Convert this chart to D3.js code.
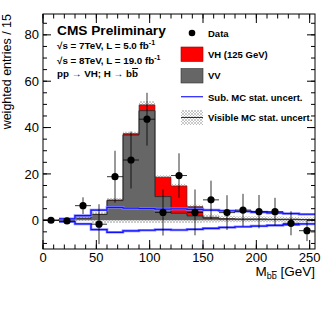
<!DOCTYPE html>
<html>
<head>
<meta charset="utf-8">
<script src="https://cdn.jsdelivr.net/npm/d3@7"></script>
<style>
  body { margin: 0; background: #fff; }
  text { font-family: "Liberation Sans", Arial, sans-serif; }
</style>
</head>
<body>
<div id="chart"></div>
<script>
// bins of 15 GeV, lower edges
var binLow = [0, 15, 30, 45, 60, 75, 90, 105, 120, 135, 150, 165, 180, 195, 210, 225, 240];
var binWidth = 15;
// stacked backgrounds
var vv = [0, 0.4, 0.9, 2.5, 8.5, 36.8, 47.3, 10.2, 3.0, 1.9, 0.9, 0.6, 0.5, 0.5, 0.4, 0.4, 0.3];
var vh = [0, 0, 0, 0.1, 0.3, 0.6, 2.5, 8.4, 11.8, 4.0, 0.4, 0.1, 0, 0, 0, 0, 0];
// visible MC stat. uncertainty (half width) and the band below zero
var mcUnc = [0, 0.5, 1.0, 1.0, 0.8, 0.8, 1.6, 0.8, 0.9, 0.8, 1.2, 1.2, 1.2, 1.2, 1.2, 1.0, 1.0];
var mcNeg = [0, 0, -0.4, -1.2, -1.2, -1.2, -1.2, -1.2, -1.2, -1.2, -1.0, -0.8, -0.8, -0.8, -0.8, -0.8, -0.8];
// subtracted MC stat. uncertainty (blue lines), first bin has none
var subUp = [null, 0.6, 2.0, 4.4, 5.6, 5.2, 5.0, 4.8, 4.9, 4.7, 4.4, 4.1, 3.8, 3.5, 3.2, 2.9, 2.6];
var subDown = [null, -0.6, -1.6, -4.0, -5.2, -4.6, -4.3, -4.0, -4.2, -3.9, -3.5, -3.1, -2.8, -2.5, -2.2, -1.9, -1.6];
// data
var dataY = [0, -0.3, 6.3, -1.7, 18.8, 26.0, 43.6, 3.4, 19.3, 3.4, 8.8, 3.3, 4.4, 3.7, 3.7, -1.3, -4.5];
var dataErr = [0.3, 0.5, 3.6, 8.6, 11.2, 12.3, 11.4, 10.0, 9.6, 9.9, 8.3, 7.5, 7.0, 7.2, 6.0, 5.2, 4.5];

var W = 332, H = 319;
var frame = {left: 43, right: 315, top: 14, bottom: 249};

var svg = d3.select("#chart").append("svg")
    .attr("width", W).attr("height", H);

var x = d3.scaleLinear().domain([0, 255]).range([frame.left, frame.right]);
var y = d3.scaleLinear().domain([-12.4, 89]).range([frame.bottom, frame.top]);

// hatch pattern for MC stat uncert.
var defs = svg.append("defs");
var pat = defs.append("pattern").attr("id", "hatch")
    .attr("patternUnits", "userSpaceOnUse").attr("width", 3).attr("height", 3);
pat.append("rect").attr("width", 3).attr("height", 3).attr("fill", "#fff");
pat.append("path").attr("d", "M0,0 L3,3 M3,0 L0,3")
    .attr("stroke", "#aaa").attr("stroke-width", 0.6);

var bins = binLow.map(function(b, i) {
    return {lo: b, hi: b + binWidth, vv: vv[i], vh: vh[i], unc: mcUnc[i], neg: mcNeg[i],
            up: subUp[i], down: subDown[i], d: dataY[i], e: dataErr[i]};
});

var plot = svg.append("g");

// light band below zero
plot.selectAll(".neg").data(bins.filter(function(d){ return d.neg < 0; }))
    .enter().append("rect")
    .attr("x", function(d){ return x(d.lo); })
    .attr("width", function(d){ return x(d.hi) - x(d.lo); })
    .attr("y", y(0))
    .attr("height", function(d){ return y(d.neg) - y(0); })
    .attr("fill", "url(#hatch)");

// MC stat. uncert. band around total
plot.selectAll(".unc").data(bins.filter(function(d){ return d.unc > 0; }))
    .enter().append("rect")
    .attr("x", function(d){ return x(d.lo); })
    .attr("width", function(d){ return x(d.hi) - x(d.lo); })
    .attr("y", function(d){ return y(d.vv + d.vh + d.unc); })
    .attr("height", function(d){ return y(d.vv + d.vh - d.unc) - y(d.vv + d.vh + d.unc); })
    .attr("fill", "url(#hatch)");

// VV
plot.selectAll(".vv").data(bins.filter(function(d){ return d.vv > 0; }))
    .enter().append("rect")
    .attr("x", function(d){ return x(d.lo); })
    .attr("width", function(d){ return x(d.hi) - x(d.lo); })
    .attr("y", function(d){ return y(d.vv); })
    .attr("height", function(d){ return y(0) - y(d.vv); })
    .attr("fill", "#666666");

// VH on top
plot.selectAll(".vh").data(bins.filter(function(d){ return d.vh > 0; }))
    .enter().append("rect")
    .attr("x", function(d){ return x(d.lo); })
    .attr("width", function(d){ return x(d.hi) - x(d.lo); })
    .attr("y", function(d){ return y(d.vv + d.vh); })
    .attr("height", function(d){ return y(d.vv) - y(d.vv + d.vh); })
    .attr("fill", "#ff0000");

// step outline helper
function stepPath(vals) {
    var pts = [];
    bins.forEach(function(d, i) {
        if (vals[i] == null) return;
        pts.push([x(d.lo), y(vals[i])]);
        pts.push([x(d.hi), y(vals[i])]);
    });
    return d3.line()(pts);
}

// VV outline and total outline
plot.append("path").attr("d", stepPath(vv))
    .attr("fill", "none").attr("stroke", "#222").attr("stroke-width", 0.9);
plot.append("path").attr("d", stepPath(bins.map(function(d){ return d.vv + d.vh; })))
    .attr("fill", "none").attr("stroke", "#333").attr("stroke-width", 0.6);

// blue sub MC stat uncert lines
[subUp, subDown].forEach(function(arr) {
    plot.append("path").attr("d", stepPath(arr))
        .attr("fill", "none").attr("stroke", "#8888ff").attr("stroke-width", 2.6);
    plot.append("path").attr("d", stepPath(arr))
        .attr("fill", "none").attr("stroke", "#1010ff").attr("stroke-width", 1.2);
});

// data points
var pts = plot.selectAll(".pt").data(bins).enter().append("g");
pts.append("line")
    .attr("x1", function(d){ return x(d.lo); }).attr("x2", function(d){ return x(d.hi); })
    .attr("y1", function(d){ return y(d.d); }).attr("y2", function(d){ return y(d.d); })
    .attr("stroke", "#000").attr("stroke-width", 0.8);
pts.append("line")
    .attr("x1", function(d){ return x(d.lo + binWidth / 2); }).attr("x2", function(d){ return x(d.lo + binWidth / 2); })
    .attr("y1", function(d){ return y(d.d + d.e); }).attr("y2", function(d){ return y(d.d - d.e); })
    .attr("stroke", "#000").attr("stroke-width", 0.8);
pts.append("circle")
    .attr("cx", function(d){ return x(d.lo + binWidth / 2); })
    .attr("cy", function(d){ return y(d.d); })
    .attr("r", 3.6).attr("fill", "#000");

// frame
svg.append("rect")
    .attr("x", frame.left).attr("y", frame.top)
    .attr("width", frame.right - frame.left).attr("height", frame.bottom - frame.top)
    .attr("fill", "none").attr("stroke", "#000").attr("stroke-width", 1);

// ticks, ROOT style, inside on all sides
var yMajor = d3.range(0, 81, 20), yMinor = d3.range(-10, 89, 5);
var xMajor = d3.range(0, 251, 50), xMinor = d3.range(0, 255, 10);
var tk = svg.append("g").attr("stroke", "#000").attr("stroke-width", 1);
function yTicks(vals, len) {
    vals.forEach(function(v) {
        tk.append("line").attr("x1", frame.left).attr("x2", frame.left + len)
            .attr("y1", y(v)).attr("y2", y(v));
        tk.append("line").attr("x1", frame.right).attr("x2", frame.right - len)
            .attr("y1", y(v)).attr("y2", y(v));
    });
}
function xTicks(vals, len) {
    vals.forEach(function(v) {
        tk.append("line").attr("y1", frame.bottom).attr("y2", frame.bottom - len)
            .attr("x1", x(v)).attr("x2", x(v));
        tk.append("line").attr("y1", frame.top).attr("y2", frame.top + len)
            .attr("x1", x(v)).attr("x2", x(v));
    });
}
yTicks(yMinor, 4); yTicks(yMajor, 8);
xTicks(xMinor, 4.5); xTicks(xMajor, 9);

svg.selectAll(".ylab").data(yMajor).enter().append("text")
    .attr("x", 39).attr("y", function(d){ return y(d) + 4.6; })
    .attr("text-anchor", "end").attr("font-size", 13).text(function(d){ return d; });
svg.selectAll(".xlab").data(xMajor).enter().append("text")
    .attr("x", function(d){ return x(d); }).attr("y", 262)
    .attr("text-anchor", "middle").attr("font-size", 13).text(function(d){ return d; });

// axis titles
svg.append("text")
    .attr("transform", "translate(11,14) rotate(-90)")
    .attr("text-anchor", "end").attr("font-size", 12.5)
    .text("weighted entries / 15");

var xt = svg.append("text").attr("x", 315).attr("y", 276)
    .attr("text-anchor", "end").attr("font-size", 13.5);
xt.append("tspan").text("M");
xt.append("tspan").attr("font-size", 9).attr("dy", 3).text("b");
xt.append("tspan").attr("font-size", 9).style("text-decoration", "overline").text("b");
xt.append("tspan").attr("dy", -3).text(" [GeV]");

// header text
var hx = 57;
svg.append("text").attr("x", hx).attr("y", 35).attr("font-size", 13.7)
    .attr("font-weight", "bold").text("CMS Preliminary");
function lumi(yy, s, L) {
    var t = svg.append("text").attr("x", hx).attr("y", yy).attr("font-size", 9.8).attr("font-weight", "bold");
    t.append("tspan").text("\u221As =  " + s + "TeV, L = " + L + " fb");
    t.append("tspan").attr("font-size", 7).attr("dy", -4).text("-1");
}
lumi(49, "7", "5.0");
lumi(64, "8", "19.0");
var pp = svg.append("text").attr("x", hx).attr("y", 77).attr("font-size", 9.8).attr("font-weight", "bold");
pp.append("tspan").text("pp \u2192 VH; H \u2192 b");
pp.append("tspan").style("text-decoration", "overline").text("b");

// legend
var lg = svg.append("g");
var lx = 181, lw = 22, tx = 208;
lg.append("circle").attr("cx", 192).attr("cy", 33).attr("r", 3.3).attr("fill", "#000");
lg.append("rect").attr("x", lx).attr("y", 47).attr("width", lw).attr("height", 14.5)
    .attr("fill", "#ff0000").attr("stroke", "#900").attr("stroke-width", 0.6);
lg.append("rect").attr("x", lx).attr("y", 68.5).attr("width", lw).attr("height", 14.5)
    .attr("fill", "#666666").attr("stroke", "#333").attr("stroke-width", 0.6);
lg.append("line").attr("x1", lx).attr("x2", lx + lw).attr("y1", 96.7).attr("y2", 96.7)
    .attr("stroke", "#3030ff").attr("stroke-width", 1.3);
lg.append("rect").attr("x", lx).attr("y", 110).attr("width", lw).attr("height", 15)
    .attr("fill", "url(#hatch)");
lg.append("line").attr("x1", lx).attr("x2", lx + lw).attr("y1", 117.5).attr("y2", 117.5)
    .attr("stroke", "#000").attr("stroke-width", 0.8);
var labels = ["Data", "VH (125 GeV)", "VV", "Sub. MC stat. uncert.", "Visible MC stat. uncert."];
var ly = [36.5, 58, 79, 100.5, 121];
labels.forEach(function(l, i) {
    lg.append("text").attr("x", tx).attr("y", ly[i]).attr("font-size", 9.5)
        .attr("font-weight", "bold").text(l);
});
</script>
</body>
</html>
